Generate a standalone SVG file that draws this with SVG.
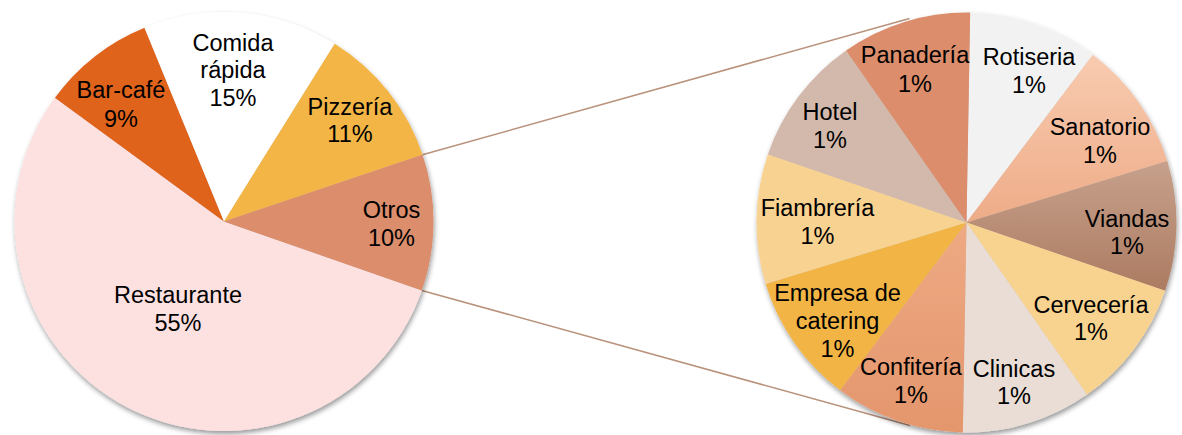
<svg xmlns="http://www.w3.org/2000/svg" width="1182" height="435" viewBox="0 0 1182 435">
<style>
text{font-family:"Liberation Sans",Arial,sans-serif;font-size:23.5px;fill:#000;text-anchor:middle}
.conn{stroke:#B9927C;stroke-width:1.6;fill:none}
</style>
<defs>
<filter id="sh" x="-10%" y="-10%" width="120%" height="125%">
<feDropShadow dx="1" dy="3" stdDeviation="2.5" flood-color="#000" flood-opacity="0.4"/>
</filter>
<linearGradient id="gSan" x1="0" y1="55" x2="0" y2="222" gradientUnits="userSpaceOnUse"><stop offset="0" stop-color="#F8CBB0"/><stop offset="1" stop-color="#EEAC88"/></linearGradient>
<linearGradient id="gVia" x1="0" y1="161" x2="0" y2="291" gradientUnits="userSpaceOnUse"><stop offset="0" stop-color="#C7A18C"/><stop offset="1" stop-color="#AC7B61"/></linearGradient>
<linearGradient id="gCon" x1="0" y1="222" x2="0" y2="432" gradientUnits="userSpaceOnUse"><stop offset="0" stop-color="#EEAA84"/><stop offset="1" stop-color="#E4966C"/></linearGradient>
</defs>
<g id="connectors">
<line class="conn" x1="422.5" y1="154.7" x2="909.5" y2="18.5"/>
<line class="conn" x1="421.8" y1="290.4" x2="910" y2="425.5"/>
</g>
<g id="pie-main" filter="url(#sh)">
<g id="restaurante"><path d="M224,221.5 L421.85,290.4 A209.5,209.5 0 1 1 54.93,97.77 Z" fill="#FDE0E0"/></g>
<g id="bar-cafe"><path d="M224,221.5 L54.93,97.77 A209.5,209.5 0 0 1 144.5,27.67 Z" fill="#E0631E"/></g>
<g id="comida-rapida"><path d="M224,221.5 L144.5,27.67 A209.5,209.5 0 0 1 334.7,43.63 Z" fill="#FFFFFF"/></g>
<g id="pizzeria"><path d="M224,221.5 L334.7,43.63 A209.5,209.5 0 0 1 422.56,154.67 Z" fill="#F3B544"/></g>
<g id="otros"><path d="M224,221.5 L422.56,154.67 A209.5,209.5 0 0 1 421.85,290.4 Z" fill="#DB8D6C"/></g>
</g>
<g id="pie-main-labels">
<text x="178" y="302.7">Restaurante</text><text x="178" y="331">55%</text>
<text x="121" y="98.3">Bar-café</text><text x="121" y="126.7">9%</text>
<text x="233" y="50.7">Comida</text><text x="233" y="77.5">rápida</text><text x="233" y="105.7">15%</text>
<text x="350" y="115">Pizzería</text><text x="350" y="142.3">11%</text>
<text x="391.5" y="218.3">Otros</text><text x="391.5" y="245.7">10%</text>
</g>
<g id="pie-sub" filter="url(#sh)">
<g id="rotiseria"><path d="M966.5,222.5 L970.16,12.53 A210,210 0 0 1 1092.88,54.79 Z" fill="#F2F2F2"/></g>
<g id="sanatorio"><path d="M966.5,222.5 L1092.88,54.79 A210,210 0 0 1 1167.32,161.1 Z" fill="url(#gSan)"/></g>
<g id="viandas"><path d="M966.5,222.5 L1167.32,161.1 A210,210 0 0 1 1165.06,290.87 Z" fill="url(#gVia)"/></g>
<g id="cerveceria"><path d="M966.5,222.5 L1165.06,290.87 A210,210 0 0 1 1086.95,394.52 Z" fill="#F8D38F"/></g>
<g id="clinicas"><path d="M966.5,222.5 L1086.95,394.52 A210,210 0 0 1 962.84,432.47 Z" fill="#E9DDD5"/></g>
<g id="confiteria"><path d="M966.5,222.5 L962.84,432.47 A210,210 0 0 1 840.12,390.21 Z" fill="url(#gCon)"/></g>
<g id="empresa-catering"><path d="M966.5,222.5 L840.12,390.21 A210,210 0 0 1 765.68,283.9 Z" fill="#F2B544"/></g>
<g id="fiambreria"><path d="M966.5,222.5 L765.68,283.9 A210,210 0 0 1 767.94,154.13 Z" fill="#F8D290"/></g>
<g id="hotel"><path d="M966.5,222.5 L767.94,154.13 A210,210 0 0 1 846.05,50.47 Z" fill="#D3B9AC"/></g>
<g id="panaderia"><path d="M966.5,222.5 L846.05,50.47 A210,210 0 0 1 970.16,12.53 Z" fill="#DB8D6C"/></g>
</g>
<g id="pie-sub-labels">
<text x="915" y="63.3">Panadería</text><text x="915" y="91.7">1%</text>
<text x="1029" y="65">Rotiseria</text><text x="1029" y="92.7">1%</text>
<text x="830" y="120">Hotel</text><text x="830" y="147.7">1%</text>
<text x="1100" y="135">Sanatorio</text><text x="1100" y="162.7">1%</text>
<text x="817.5" y="216">Fiambrería</text><text x="817.5" y="244">1%</text>
<text x="1127" y="226.7">Viandas</text><text x="1127" y="254.3">1%</text>
<text x="837.5" y="301">Empresa de</text><text x="837.5" y="329">catering</text><text x="837.5" y="356.7">1%</text>
<text x="1091" y="313.3">Cervecería</text><text x="1091" y="340">1%</text>
<text x="911" y="375">Confitería</text><text x="911" y="402.7">1%</text>
<text x="1014" y="376.7">Clinicas</text><text x="1014" y="404">1%</text>
</g>
</svg>
